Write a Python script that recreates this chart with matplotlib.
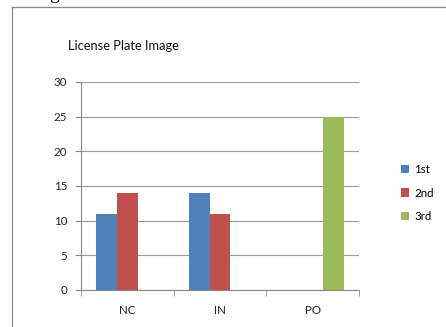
import matplotlib
matplotlib.use("Agg")
import matplotlib.pyplot as plt
from matplotlib.lines import Line2D
import numpy as np

# data
categories = ["NC", "IN", "PO"]
series_names = ["1st", "2nd", "3rd"]
first = [11, 14, 0]
second = [14, 11, 0]
third = [0, 0, 25]
yticks = [0, 5, 10, 15, 20, 25, 30]

colours = ["#4F81BD", "#C0504D", "#9BBB59"]

plt.rcParams['font.family'] = ['Lato', 'DejaVu Sans']

fig = plt.figure(figsize=(4.46, 3.27), dpi=100)
fig.patch.set_facecolor("white")
ax = fig.add_axes([81 / 446, 1 - 290 / 327, (359 - 81) / 446, (290 - 82) / 327])

x = np.arange(len(categories))
w = 1 / 4.5
for i, (vals, name) in enumerate(zip([first, second, third], series_names)):
    ax.bar(x + (i - 1) * w, vals, w, color=colours[i], label=name, zorder=3)

ax.set_xlim(-0.5, len(categories) - 0.5)
ax.set_ylim(0, 30)
ax.set_yticks(yticks)
ax.set_xticks(x)
ax.set_xticklabels(categories)
ax.set_xticks(np.arange(-0.5, len(categories)), minor=True)
ax.tick_params(axis="x", which="major", length=0, pad=11, labelsize=8.3, labelcolor="#222222")
ax.tick_params(axis="x", which="minor", length=4, color="#888888")
ax.tick_params(axis="y", length=4, color="#888888", pad=6, labelsize=8.3, labelcolor="#222222")
ax.yaxis.grid(True, color="#999999", lw=0.8, zorder=0)
for s in ["top", "right"]:
    ax.spines[s].set_visible(False)
for s in ["left", "bottom"]:
    ax.spines[s].set_color("#888888")
    ax.spines[s].set_linewidth(0.8)

fig.text(68 / 446, 1 - 46 / 327, "License Plate Image", fontsize=9.3, va="center", ha="left",
         color="#111111")

fig.legend(loc="center left", bbox_to_anchor=(391 / 446, 1 - 193 / 327), frameon=False,
           fontsize=8.3, handlelength=0.7, handleheight=0.7, handletextpad=0.4,
           labelspacing=1.05)

# outer chart frame (cut off at the right and bottom)
fig.add_artist(Line2D([12 / 446, 1.0], [1 - 7 / 327, 1 - 7 / 327], color="#888888", lw=0.9))
fig.add_artist(Line2D([12 / 446, 12 / 446], [0.0, 1 - 7 / 327], color="#888888", lw=0.9))
# clipped letter of the text above the chart, cut off as in the reference
fig.text(49 / 446, 1 + 1 / 327, "g", fontsize=14, family="Liberation Serif", va="baseline")

fig.savefig("out.png", dpi=100)
